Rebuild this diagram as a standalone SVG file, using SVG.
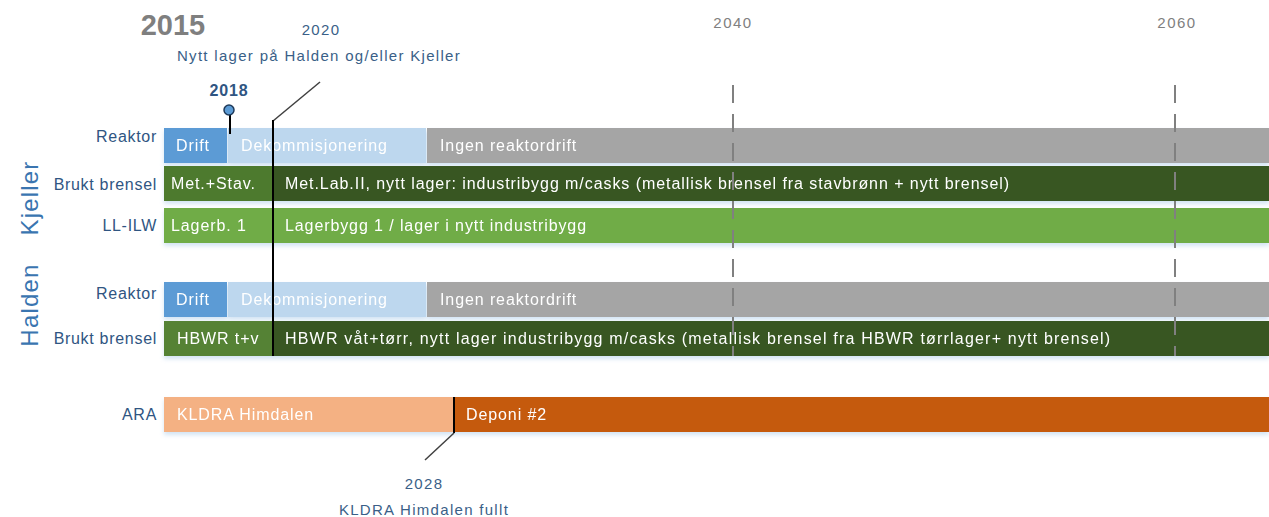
<svg xmlns="http://www.w3.org/2000/svg" width="1269" height="517" viewBox="0 0 1269 517">
<defs>
<filter id="sh" x="-5%" y="-20%" width="110%" height="160%">
<feDropShadow dx="0" dy="3" stdDeviation="2" flood-color="#9dc3e6" flood-opacity="0.45"/>
</filter>
</defs>
<style>
text{font-family:"Liberation Sans",Arial,sans-serif}
.bt{fill:#ffffff;font-size:16px;letter-spacing:0.9px}
.lbl{fill:#2f5582;font-size:16px;letter-spacing:0.7px;text-anchor:end}
.grp{fill:#3a75b0;font-size:24px;letter-spacing:1.2px;text-anchor:middle}
.yr{fill:#808080;font-size:15px;letter-spacing:1.5px;text-anchor:middle}
.ann{fill:#3a5f88;font-size:15px;letter-spacing:1.3px;text-anchor:middle}
.dash{stroke:#808080;stroke-width:2;stroke-dasharray:18 11;fill:none}
.ln{stroke:#000000;stroke-width:2;fill:none}
.dg{stroke:#404040;stroke-width:1.5;fill:none}
</style>
<rect width="1269" height="517" fill="#ffffff"/>

<g id="header">
<text x="173" y="35" font-size="29" font-weight="bold" fill="#7f7f7f" text-anchor="middle">2015</text>
<text class="yr" x="733" y="28">2040</text>
<text class="yr" x="1177" y="28">2060</text>
</g>

<g id="group-labels">
<text class="grp" transform="translate(38,198) rotate(-90)">Kjeller</text>
<text class="grp" transform="translate(38,305) rotate(-90)">Halden</text>
</g>

<g id="row-labels">
<text class="lbl" x="157" y="142">Reaktor</text>
<text class="lbl" x="157" y="190">Brukt brensel</text>
<text class="lbl" x="157" y="231">LL-ILW</text>
<text class="lbl" x="157" y="299">Reaktor</text>
<text class="lbl" x="157" y="344">Brukt brensel</text>
<text class="lbl" x="157" y="420">ARA</text>
</g>

<g id="kjeller-reaktor" filter="url(#sh)">
<rect x="164" y="128" width="63" height="35" fill="#5b9bd5"/>
<rect x="228" y="128" width="198" height="35" fill="#bdd7ee"/>
<rect x="427" y="128" width="842" height="35" fill="#a5a5a5"/>
<text class="bt" x="176" y="151">Drift</text>
<text class="bt" x="241" y="151">Dekommisjonering</text>
<text class="bt" x="440" y="151">Ingen reaktordrift</text>
</g>

<g id="kjeller-brensel" filter="url(#sh)">
<rect x="164" y="166" width="108" height="35" fill="#4d7a2f"/>
<rect x="272" y="166" width="997" height="35" fill="#385723"/>
<text class="bt" x="171" y="189">Met.+Stav.</text>
<text class="bt" x="285" y="189" textLength="725" lengthAdjust="spacing">Met.Lab.II, nytt lager: industribygg m/casks (metallisk brensel fra stavbrønn + nytt brensel)</text>
</g>

<g id="kjeller-llilw" filter="url(#sh)">
<rect x="164" y="208" width="1105" height="35" fill="#6fac46"/>
<text class="bt" x="171" y="231">Lagerb. 1</text>
<text class="bt" x="285" y="231">Lagerbygg 1 / lager i nytt industribygg</text>
</g>

<g id="halden-reaktor" filter="url(#sh)">
<rect x="164" y="282" width="63" height="35" fill="#5b9bd5"/>
<rect x="228" y="282" width="198" height="35" fill="#bdd7ee"/>
<rect x="427" y="282" width="842" height="35" fill="#a5a5a5"/>
<text class="bt" x="176" y="305">Drift</text>
<text class="bt" x="241" y="305">Dekommisjonering</text>
<text class="bt" x="440" y="305">Ingen reaktordrift</text>
</g>

<g id="halden-brensel" filter="url(#sh)">
<rect x="164" y="321" width="108" height="35" fill="#548235"/>
<rect x="272" y="321" width="997" height="35" fill="#385723"/>
<text class="bt" x="177" y="344">HBWR t+v</text>
<text class="bt" x="285" y="344" textLength="826" lengthAdjust="spacing">HBWR våt+tørr, nytt lager industribygg m/casks (metallisk brensel fra HBWR tørrlager+ nytt brensel)</text>
</g>

<g id="ara" filter="url(#sh)">
<rect x="164" y="397" width="290" height="35" fill="#f4b183"/>
<rect x="454" y="397" width="815" height="35" fill="#c55a11"/>
<text class="bt" x="177" y="420">KLDRA Himdalen</text>
<text class="bt" x="466" y="420">Deponi #2</text>
</g>

<g id="connectors">
<line class="dash" x1="733" y1="85" x2="733" y2="356"/>
<line class="dash" x1="1175" y1="85" x2="1175" y2="356"/>
<polyline class="dg" points="320,82 273,121"/>
<line class="ln" x1="273" y1="120" x2="273" y2="356"/>
<line class="ln" x1="230" y1="113" x2="230" y2="134"/>
<circle cx="229" cy="110" r="5" fill="#5b9bd5" stroke="#1f3a5a" stroke-width="1.5"/>
<line class="ln" x1="454" y1="397" x2="454" y2="433"/>
<polyline class="dg" points="454,433 425,460"/>
</g>

<g id="annotations">
<text x="229" y="96" font-size="16" font-weight="bold" letter-spacing="0.8" fill="#2f5582" text-anchor="middle">2018</text>
<text class="ann" x="321" y="35">2020</text>
<text class="ann" x="319" y="61">Nytt lager på Halden og/eller Kjeller</text>
<text class="ann" x="424" y="489">2028</text>
<text class="ann" x="424" y="515">KLDRA Himdalen fullt</text>
</g>
</svg>
